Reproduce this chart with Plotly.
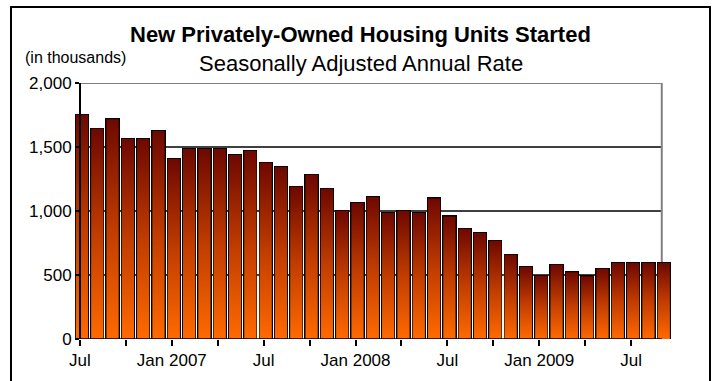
import plotly.graph_objects as go

# ---- data ----
months = ["Jul 2006", "Aug 2006", "Sep 2006", "Oct 2006", "Nov 2006", "Dec 2006",
          "Jan 2007", "Feb 2007", "Mar 2007", "Apr 2007", "May 2007", "Jun 2007",
          "Jul 2007", "Aug 2007", "Sep 2007", "Oct 2007", "Nov 2007", "Dec 2007",
          "Jan 2008", "Feb 2008", "Mar 2008", "Apr 2008", "May 2008", "Jun 2008",
          "Jul 2008", "Aug 2008", "Sep 2008", "Oct 2008", "Nov 2008", "Dec 2008",
          "Jan 2009", "Feb 2009", "Mar 2009", "Apr 2009", "May 2009", "Jun 2009",
          "Jul 2009", "Aug 2009", "Sep 2009"]
starts = [1752, 1643, 1716, 1562, 1562, 1625,
          1406, 1484, 1484, 1484, 1437, 1469,
          1377, 1344, 1190, 1284, 1174, 1002,
          1063, 1109, 984, 1002, 984, 1098,
          958, 862, 828, 768, 659, 562,
          495, 580, 521, 489, 549, 594,
          594, 594, 594]
tick_months = [0, 3, 6, 9, 12, 15, 18, 21, 24, 27, 30, 33, 36]
tick_labels = ["Jul", "", "Jan 2007", "", "Jul", "", "Jan 2008", "", "Jul", "", "Jan 2009", "", "Jul"]
y_ticks = [0, 500, 1000, 1500, 2000]
y_tick_labels = ["0", "500", "1,000", "1,500", "2,000"]

# ---- layout geometry ----
W, H = 712, 381
ML, MR, MT, MB = 70, 36, 83, 42
BAR_W = 0.8
TICK_OFF = -0.13          # axis ticks sit slightly left of bar centres
FRAME_RIGHT = 37.87       # right edge of the plot frame (axis units)
FONT = "Liberation Sans, Arial, sans-serif"


def px_x(px):
    return (px - ML) / (W - ML - MR)


def px_y(py):
    return (H - MB - py) / (H - MT - MB)


xs = list(range(len(starts)))
fig = go.Figure()

# gradient fills, one per bar
for i, v in zip(xs, starts):
    fig.add_trace(go.Scatter(
        x=[i - BAR_W / 2, i + BAR_W / 2, i + BAR_W / 2, i - BAR_W / 2, i - BAR_W / 2],
        y=[0, 0, v, v, 0],
        mode="lines", line=dict(width=0), fill="toself",
        fillgradient=dict(type="vertical",
                          colorscale=[[0, "#ff6a00"], [0.5, "#c03c00"], [1, "#6e0800"]]),
        hoverinfo="skip", showlegend=False))

# bar outlines
fig.add_trace(go.Bar(
    x=xs, y=starts, width=BAR_W, customdata=months,
    marker=dict(color="rgba(0,0,0,0)", line=dict(color="black", width=2)),
    hovertemplate="%{customdata}: %{y:,}<extra></extra>", showlegend=False))

shapes = []
for g in y_ticks[1:-1]:
    shapes.append(dict(type="line", xref="x", yref="y", x0=TICK_OFF, x1=FRAME_RIGHT, y0=g, y1=g,
                       line=dict(color="black", width=1.5), layer="below"))
# gray frame top and right
shapes.append(dict(type="line", xref="x", yref="y", x0=TICK_OFF, x1=FRAME_RIGHT, y0=y_ticks[-1], y1=y_ticks[-1],
                   line=dict(color="#808080", width=2), layer="below"))
shapes.append(dict(type="line", xref="x", yref="y", x0=FRAME_RIGHT, x1=FRAME_RIGHT, y0=0, y1=y_ticks[-1],
                   line=dict(color="#808080", width=2), layer="below"))
# x axis line
shapes.append(dict(type="line", xref="x", yref="y", x0=TICK_OFF, x1=FRAME_RIGHT, y0=0, y1=0,
                   line=dict(color="black", width=1.5), layer="above"))
# outer chart border
shapes.append(dict(type="rect", xref="paper", yref="paper",
                   x0=px_x(11), x1=px_x(710), y0=px_y(395), y1=px_y(7),
                   line=dict(color="black", width=2), fillcolor="rgba(0,0,0,0)"))

annotations = [
    dict(text="<b>New Privately-Owned Housing Units Started</b>", xref="paper", yref="paper",
         x=px_x(360), y=px_y(34), xanchor="center", yanchor="middle", showarrow=False,
         font=dict(family=FONT, size=22, color="black")),
    dict(text="Seasonally Adjusted Annual Rate", xref="paper", yref="paper",
         x=px_x(361), y=px_y(63), xanchor="center", yanchor="middle", showarrow=False,
         font=dict(family=FONT, size=22, color="black")),
    dict(text="(in thousands)", xref="paper", yref="paper",
         x=px_x(23), y=px_y(57), xanchor="left", yanchor="middle", showarrow=False,
         font=dict(family=FONT, size=16, color="black")),
]

fig.update_layout(
    width=W, height=H, margin=dict(l=ML, r=MR, t=MT, b=MB),
    paper_bgcolor="white", plot_bgcolor="white",
    shapes=shapes, annotations=annotations, bargap=0,
    font=dict(family=FONT, color="black"),
    xaxis=dict(range=[-0.78, 38.8], showgrid=False, zeroline=False, showline=False,
               tickmode="array", tickvals=[m + TICK_OFF for m in tick_months], ticktext=tick_labels,
               ticks="outside", ticklen=6, tickwidth=1.5, tickcolor="black",
               tickfont=dict(family=FONT, size=17, color="black")),
    yaxis=dict(range=[0, 2000], showgrid=False, zeroline=False,
               anchor="free", position=px_x(80),
               showline=True, linecolor="black", linewidth=2,
               tickmode="array", tickvals=y_ticks, ticktext=y_tick_labels,
               ticks="outside", ticklen=4, tickwidth=1.5, tickcolor="black",
               tickfont=dict(family=FONT, size=17, color="black")),
)

fig.write_html("out.html")
